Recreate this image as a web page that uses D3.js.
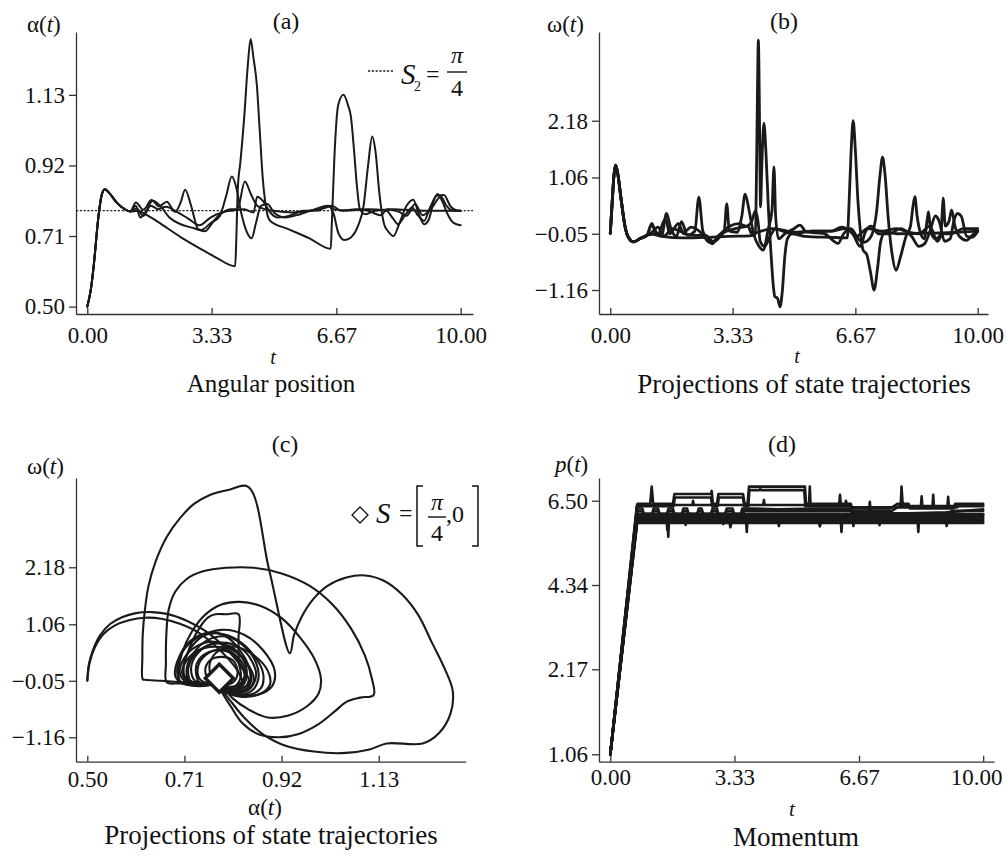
<!DOCTYPE html>
<html><head><meta charset="utf-8">
<script src="https://cdn.jsdelivr.net/npm/d3@7"></script>
<style>
body{margin:0;background:#fff;}
svg{display:block;font-family:"Liberation Serif","Times New Roman",serif;}
</style></head><body>
<svg id="fig" width="1006" height="855"></svg>
<script>
// ---- tick values ----
const timeTicks = [0, 3.33, 6.67, 10];
const angleTicks = [0.50, 0.71, 0.92, 1.13];
const rateTicks = [-1.16, -0.05, 1.06, 2.18];
const momentumTicks = [1.06, 2.17, 4.34, 6.50];
const setAngle = Math.PI / 4;

// ---- (a) angular position α(t), runs share the same start-up transient ----
const angleStart = [[0,0.5],[0.1,0.555],[0.17,0.62],[0.3,0.77],[0.38,0.83],[0.47,0.849],[0.6,0.836],[0.8,0.808],[1.0,0.79],[1.15,0.783]];
const angleRun1 = angleStart.concat([[1.35,0.785],[1.6,0.772],[2.0,0.744],[2.5,0.707],[3.0,0.674],[3.45,0.646],[3.96,0.62],[3.99,0.7],[4.03,0.85],[4.1,0.93],[4.2,1.06],[4.3,1.22],[4.375,1.296],[4.45,1.24],[4.54,1.16],[4.62,1.02],[4.7,0.88],[4.76,0.815],[4.82,0.775],[4.9,0.755],[5.4,0.73],[5.95,0.703],[6.52,0.672],[6.55,0.75],[6.62,0.95],[6.72,1.1],[6.86,1.13],[6.98,1.1],[7.06,1.065],[7.14,0.97],[7.22,0.86],[7.3,0.79],[7.45,0.775],[7.7,0.785],[8.2,0.79],[8.8,0.786],[9.4,0.785],[10,0.785]]);
const angleRun2 = angleStart.concat([[1.3,0.80],[1.42,0.765],[1.58,0.785],[1.75,0.815],[1.95,0.80],[2.2,0.765],[2.5,0.745],[2.8,0.735],[3.05,0.728],[3.3,0.748],[3.55,0.77],[3.72,0.83],[3.87,0.887],[4.0,0.85],[4.12,0.78],[4.28,0.72],[4.4,0.703],[4.52,0.75],[4.65,0.80],[4.82,0.805],[5.0,0.78],[5.3,0.765],[5.7,0.775],[6.1,0.79],[6.45,0.80],[6.6,0.775],[6.72,0.72],[6.88,0.698],[7.05,0.705],[7.25,0.74],[7.4,0.8],[7.52,0.92],[7.63,1.006],[7.72,0.96],[7.82,0.84],[7.95,0.745],[8.05,0.725],[8.2,0.71],[8.35,0.745],[8.55,0.8],[8.73,0.818],[8.88,0.775],[9.02,0.745],[9.15,0.76],[9.28,0.815],[9.38,0.835],[9.5,0.815],[9.65,0.775],[9.8,0.75],[10,0.742]]);
const angleRun3 = angleStart.concat([[1.3,0.81],[1.5,0.788],[1.72,0.817],[1.92,0.798],[2.13,0.812],[2.35,0.782],[2.5,0.81],[2.62,0.848],[2.78,0.80],[2.97,0.73],[3.15,0.724],[3.4,0.757],[3.6,0.778],[3.85,0.79],[4.02,0.79],[4.22,0.872],[4.38,0.835],[4.55,0.80],[4.75,0.79],[5.0,0.785],[5.5,0.78],[6.0,0.786],[6.35,0.793],[6.55,0.80],[6.8,0.785],[7.2,0.79],[7.5,0.786],[7.85,0.772],[8.05,0.79],[8.35,0.782],[8.55,0.77],[8.78,0.805],[8.98,0.772],[9.2,0.79],[9.47,0.827],[9.62,0.80],[9.8,0.786],[10,0.785]]);
const angleRun4 = angleStart.concat([[1.32,0.792],[1.5,0.77],[1.7,0.8],[1.9,0.79],[2.1,0.797],[2.4,0.782],[2.7,0.762],[3.0,0.742],[3.3,0.765],[3.6,0.78],[3.9,0.786],[4.2,0.79],[4.45,0.78],[4.55,0.827],[4.7,0.815],[4.9,0.78],[5.1,0.765],[5.4,0.77],[5.8,0.785],[6.2,0.786],[6.42,0.80],[6.6,0.79],[7.0,0.786],[7.5,0.79],[8.0,0.786],[8.2,0.76],[8.32,0.745],[8.5,0.77],[8.7,0.795],[8.85,0.772],[9.02,0.755],[9.18,0.795],[9.36,0.83],[9.55,0.832],[9.72,0.80],[9.9,0.786],[10,0.785]]);
const angleRuns = [angleRun1, angleRun2, angleRun3, angleRun4];

// ---- (b) angular rate ω(t) ----
const rateStart = [[0,-0.04],[0.05,0.55],[0.1,1.1],[0.145,1.305],[0.2,1.15],[0.3,0.6],[0.4,0.1],[0.5,-0.13],[0.63,-0.21],[0.8,-0.15],[1.0,-0.08]];
const rateRun1 = rateStart.concat([[1.15,-0.06],[1.4,-0.1],[2.0,-0.13],[2.6,-0.12],[3.2,-0.1],[3.8,-0.09],[3.95,-0.06],[3.98,1.2],[4.01,3.0],[4.03,3.77],[4.05,3.0],[4.07,1.5],[4.09,0.48],[4.12,1.2],[4.18,2.13],[4.24,1.5],[4.3,0.5],[4.38,-0.5],[4.44,-1.1],[4.48,-1.29],[4.55,-1.32],[4.62,-1.49],[4.68,-1.2],[4.75,-0.5],[4.82,-0.15],[4.95,-0.05],[5.3,-0.1],[6.0,-0.12],[6.45,-0.13],[6.49,0.4],[6.55,1.5],[6.61,2.18],[6.67,1.6],[6.74,0.6],[6.8,0.05],[6.88,-0.37],[6.98,-0.46],[7.08,-0.8],[7.18,-1.16],[7.27,-0.75],[7.36,-0.2],[7.48,-0.02],[7.8,-0.05],[8.5,-0.04],[9.2,-0.03],[10,0.0]]);
const rateRun2 = rateStart.concat([[1.13,0.155],[1.25,-0.05],[1.4,-0.08],[1.53,0.35],[1.65,0.05],[1.8,-0.1],[1.94,0.19],[2.1,-0.08],[2.3,0.0],[2.41,0.67],[2.52,0.0],[2.65,-0.15],[2.78,-0.25],[2.92,-0.1],[3.1,0.0],[3.17,0.54],[3.24,0.0],[3.45,-0.02],[3.58,0.3],[3.67,0.73],[3.78,0.4],[3.9,-0.05],[4.05,-0.3],[4.16,-0.37],[4.3,0.05],[4.4,0.4],[4.455,1.27],[4.5,0.3],[4.58,-0.15],[4.75,-0.05],[5.0,0.05],[5.16,0.12],[5.35,-0.02],[5.8,-0.04],[6.2,-0.24],[6.35,-0.05],[6.55,0.05],[6.75,-0.15],[6.9,-0.22],[7.1,-0.1],[7.25,0.4],[7.34,1.1],[7.41,1.46],[7.48,1.1],[7.56,0.3],[7.66,-0.4],[7.78,-0.77],[7.9,-0.5],[8.05,-0.1],[8.17,0.1],[8.24,0.5],[8.29,0.68],[8.35,0.3],[8.45,-0.05],[8.55,-0.15],[8.62,0.2],[8.66,0.385],[8.72,0.0],[8.85,-0.15],[9.0,-0.05],[9.04,0.45],[9.06,0.65],[9.12,0.1],[9.22,0.2],[9.29,0.42],[9.38,0.1],[9.5,-0.1],[9.7,-0.18],[9.85,-0.08],[10,0.0]]);
const rateRun3 = rateStart.concat([[1.12,0.12],[1.3,-0.05],[1.5,0.25],[1.62,-0.05],[1.85,0.15],[2.0,-0.05],[2.3,-0.08],[2.6,-0.08],[2.8,-0.2],[3.0,-0.05],[3.25,0.1],[3.5,0.15],[3.7,0.1],[3.85,0.2],[3.95,0.4],[4.02,0.2],[4.08,-0.2],[4.2,-0.3],[4.35,-0.1],[4.5,0.05],[4.7,0.0],[5.0,-0.05],[5.5,0.0],[6.0,0.0],[6.4,0.05],[6.6,-0.05],[6.8,-0.3],[6.95,0.0],[7.1,0.1],[7.3,-0.05],[7.6,-0.05],[7.9,0.05],[8.2,-0.1],[8.4,-0.3],[8.55,-0.25],[8.7,0.0],[8.85,0.3],[8.95,0.2],[9.1,-0.2],[9.25,-0.15],[9.35,0.2],[9.45,0.35],[9.55,0.3],[9.7,-0.1],[9.85,-0.12],[10,0.0]]);
const rateRun4 = rateStart.concat([[1.1,-0.04],[1.3,0.08],[1.45,-0.1],[1.7,0.05],[2.0,-0.02],[2.2,0.08],[2.5,-0.05],[2.7,-0.22],[2.85,-0.2],[3.1,-0.02],[3.4,0.05],[3.6,0.08],[3.75,0.1],[3.85,-0.05],[4.1,0.0],[4.4,0.05],[4.7,0.02],[5.0,-0.02],[5.5,0.0],[6.0,0.0],[6.3,0.08],[6.5,0.02],[6.7,-0.1],[7.0,0.05],[7.4,0.0],[7.8,0.05],[8.1,-0.02],[8.4,-0.05],[8.7,0.1],[8.9,-0.2],[9.05,-0.05],[9.3,-0.05],[9.6,0.05],[10,0.05]]);
const rateRuns = [rateRun1, rateRun2, rateRun3, rateRun4];

// ---- (c) phase portrait (α, ω) ----
const phaseArcOuter = [[0.5,-0.047],[0.503,0.25],[0.512,0.55],[0.528,0.85],[0.55,1.07],[0.575,1.2],[0.605,1.28],[0.64,1.30],[0.675,1.26],[0.715,1.13],[0.755,0.93],[0.79,0.67],[0.82,0.38],[0.84,0.12],[0.849,-0.02],[0.84,-0.18],[0.815,-0.24],[0.79,-0.14],[0.785,-0.05]];
const phaseArcInner = [[0.5,-0.047],[0.505,0.3],[0.516,0.6],[0.535,0.87],[0.56,1.04],[0.59,1.14],[0.625,1.19],[0.66,1.17],[0.7,1.07],[0.74,0.9],[0.775,0.65],[0.805,0.38],[0.828,0.1],[0.835,-0.1],[0.82,-0.22],[0.795,-0.17],[0.785,-0.06]];
const phaseFan = [[0.785,-0.08],[0.75,-0.09],[0.70,-0.075],[0.66,-0.05],[0.625,-0.03],[0.62,-0.02],[0.619,0.4],[0.62,0.88],[0.624,1.3],[0.632,1.8],[0.648,2.3],[0.672,2.78],[0.70,3.14],[0.73,3.42],[0.765,3.6],[0.805,3.7],[0.848,3.76],[0.893,2.13],[0.938,0.49],[0.947,0.85],[0.963,1.2],[0.988,1.55],[1.02,1.82],[1.06,1.98],[1.1,2.02],[1.14,1.92],[1.18,1.65],[1.215,1.25],[1.245,0.7],[1.272,0.2],[1.29,-0.25],[1.285,-0.7],[1.26,-1.08],[1.225,-1.28],[1.147,-1.28],[1.11,-1.4],[1.05,-1.47],[0.99,-1.44],[0.93,-1.33],[0.88,-1.1],[0.84,-0.78],[0.81,-0.45],[0.79,-0.2],[0.785,-0.08]];
const phaseSecond = [[0.785,-0.1],[0.74,-0.12],[0.70,-0.1],[0.672,-0.08],[0.670,0.3],[0.671,0.88],[0.676,1.35],[0.69,1.7],[0.715,1.95],[0.75,2.1],[0.80,2.17],[0.86,2.17],[0.92,2.06],[0.98,1.82],[1.03,1.45],[1.07,0.98],[1.1,0.45],[1.115,0.0],[1.119,-0.33],[1.09,-0.38],[1.061,-0.46],[1.035,-0.65],[1.0,-0.9],[0.955,-1.1],[0.915,-1.16],[0.87,-1.1],[0.835,-0.88],[0.81,-0.55],[0.79,-0.25],[0.785,-0.1]];
const phaseThird = [[0.785,-0.05],[0.76,-0.14],[0.725,-0.14],[0.70,-0.05],[0.698,0.2],[0.705,0.5],[0.725,0.9],[0.755,1.25],[0.79,1.45],[0.83,1.5],[0.875,1.42],[0.92,1.18],[0.96,0.8],[0.99,0.4],[1.005,0.0],[1.0,-0.3],[0.975,-0.55],[0.935,-0.73],[0.89,-0.77],[0.85,-0.62],[0.815,-0.4],[0.795,-0.18],[0.785,-0.05]];
const phaseBox = [[0.795,-0.12],[0.75,-0.1],[0.712,-0.02],[0.708,0.2],[0.722,0.62],[0.744,1.01],[0.762,1.2],[0.777,1.257],[0.8,1.257],[0.827,1.257],[0.827,0.8],[0.828,0.29],[0.832,0.05],[0.82,-0.15],[0.795,-0.15]];
const phaseLoop1 = [[0.785,-0.05],[0.75,-0.12],[0.715,-0.08],[0.70,0.1],[0.71,0.4],[0.735,0.62],[0.77,0.72],[0.81,0.6],[0.84,0.35],[0.855,0.05],[0.845,-0.2],[0.81,-0.28],[0.785,-0.18]];
const phaseLoop2 = [[0.785,-0.1],[0.745,-0.13],[0.72,-0.05],[0.715,0.2],[0.73,0.5],[0.76,0.75],[0.80,0.82],[0.84,0.62],[0.865,0.3],[0.87,0.0],[0.855,-0.25],[0.82,-0.33],[0.79,-0.2]];
const phaseLoop3 = [[0.78,-0.06],[0.75,-0.1],[0.73,-0.02],[0.725,0.25],[0.745,0.55],[0.775,0.68],[0.81,0.62],[0.835,0.4],[0.845,0.1],[0.835,-0.15],[0.805,-0.22],[0.785,-0.12]];
const phaseLoop4 = [[0.785,-0.05],[0.74,-0.1],[0.71,0.05],[0.715,0.45],[0.745,0.8],[0.79,0.95],[0.84,0.85],[0.88,0.55],[0.905,0.15],[0.9,-0.15],[0.87,-0.32],[0.82,-0.3],[0.79,-0.15]];
const phaseLoop5 = [[0.785,-0.08],[0.76,-0.1],[0.742,0.0],[0.74,0.25],[0.755,0.45],[0.78,0.55],[0.81,0.5],[0.83,0.3],[0.84,0.05],[0.825,-0.15],[0.8,-0.18],[0.785,-0.1]];
const phaseLoop6 = [[0.79,-0.1],[0.77,0.0],[0.765,0.3],[0.785,0.55],[0.82,0.62],[0.86,0.45],[0.89,0.15],[0.895,-0.12],[0.875,-0.3],[0.83,-0.36],[0.795,-0.25],[0.785,-0.1]];
const phaseLoop7 = [[0.785,-0.05],[0.765,-0.05],[0.755,0.15],[0.765,0.35],[0.79,0.42],[0.815,0.35],[0.825,0.12],[0.815,-0.08],[0.795,-0.12],[0.785,-0.05]];
const phaseLoop8 = [[0.78,-0.1],[0.73,-0.14],[0.705,-0.1],[0.69,0.05],[0.70,0.45],[0.725,0.75],[0.765,0.9],[0.80,0.82],[0.83,0.55],[0.85,0.2],[0.85,-0.1],[0.82,-0.22],[0.79,-0.15]];
const phaseLoop9 = [[0.785,-0.12],[0.74,-0.14],[0.72,-0.1],[0.705,0.1],[0.715,0.35],[0.74,0.55],[0.775,0.62],[0.815,0.55],[0.845,0.3],[0.86,0.0],[0.85,-0.22],[0.815,-0.3],[0.79,-0.22]];
const phaseLoop10 = [[0.785,-0.06],[0.755,-0.12],[0.728,-0.1],[0.718,0.1],[0.728,0.42],[0.755,0.62],[0.79,0.7],[0.83,0.6],[0.855,0.35],[0.865,0.05],[0.85,-0.2],[0.81,-0.26],[0.788,-0.16]];
const phaseLoop11 = [[0.78,-0.08],[0.745,-0.1],[0.735,0.1],[0.74,0.35],[0.765,0.52],[0.8,0.56],[0.825,0.42],[0.84,0.2],[0.84,-0.05],[0.82,-0.2],[0.795,-0.2],[0.782,-0.1]];
const phaseLoop12 = [[0.785,-0.1],[0.72,-0.12],[0.7,-0.05],[0.695,0.25],[0.712,0.6],[0.745,0.82],[0.785,0.88],[0.825,0.75],[0.86,0.45],[0.88,0.1],[0.875,-0.2],[0.84,-0.34],[0.8,-0.28]];
const phasePaths = [phaseArcOuter, phaseArcInner, phaseFan, phaseSecond, phaseThird, phaseBox,
  phaseLoop1, phaseLoop2, phaseLoop3, phaseLoop4, phaseLoop5, phaseLoop6,
  phaseLoop7, phaseLoop8, phaseLoop9, phaseLoop10, phaseLoop11, phaseLoop12];

// ---- (d) momentum p(t), piecewise-constant runs with switching spikes ----
const momentumRun1 = [[0,1.06],[0.71,6.35],[0.73,6.42],[1.07,6.42],[1.11,6.86],[1.15,6.42],[1.68,6.42],[1.72,6.67],[2.70,6.67],[2.72,6.75],[2.75,6.42],[2.86,6.42],[2.9,6.67],[3.56,6.67],[3.6,6.42],[3.68,6.42],[3.72,6.86],[5.22,6.86],[5.25,6.42],[5.33,6.42],[5.35,6.86],[5.37,6.42],[6.14,6.42],[6.16,6.65],[6.18,6.42],[6.45,6.42],[6.48,6.30],[7.5,6.30],[7.7,6.42],[7.79,6.42],[7.81,6.86],[7.84,6.42],[8.0,6.42],[8.03,6.30],[9.2,6.30],[9.25,6.42],[10,6.42]];
const momentumRun2 = [[0,1.06],[0.72,6.36],[1.70,6.36],[1.73,6.58],[2.70,6.58],[2.73,6.36],[2.88,6.36],[2.91,6.58],[3.56,6.58],[3.59,6.36],[3.70,6.36],[3.73,6.77],[4.0,6.77],[4.02,6.80],[4.04,6.77],[5.20,6.77],[5.23,6.36],[6.45,6.36],[6.48,6.24],[6.94,6.24],[6.96,6.47],[6.98,6.24],[7.55,6.24],[7.75,6.36],[8.33,6.36],[8.35,6.61],[8.37,6.36],[8.64,6.36],[8.66,6.65],[8.68,6.36],[9.04,6.36],[9.06,6.60],[9.08,6.36],[10,6.36]];
const momentumRun3 = [[0,1.06],[0.72,6.30],[0.86,6.30],[0.9,6.16],[1.12,6.16],[1.16,6.30],[1.28,6.30],[1.32,6.16],[1.52,6.16],[1.56,6.30],[1.68,6.30],[1.72,6.16],[1.92,6.16],[1.96,6.30],[2.06,6.30],[2.1,6.16],[2.33,6.16],[2.37,6.30],[2.45,6.30],[2.49,6.16],[2.7,6.16],[2.74,6.30],[2.86,6.30],[2.9,6.16],[3.08,6.16],[3.12,6.30],[3.28,6.30],[3.32,6.16],[3.5,6.16],[3.54,6.30],[3.8,6.30],[4.5,6.28],[5.5,6.30],[6.45,6.30],[6.5,6.18],[8.0,6.18],[9.0,6.2],[10,6.28]];
const momentumRun4 = [[0,1.06],[0.72,6.23],[0.86,6.23],[0.9,6.16],[1.12,6.16],[1.16,6.23],[1.28,6.23],[1.32,6.16],[1.52,6.16],[1.56,6.23],[1.68,6.23],[1.72,6.16],[1.92,6.16],[1.96,6.23],[2.06,6.23],[2.1,6.16],[2.33,6.16],[2.37,6.23],[2.45,6.23],[2.49,6.16],[2.7,6.16],[2.74,6.23],[2.86,6.23],[2.9,6.16],[3.08,6.16],[3.12,6.23],[3.28,6.23],[3.32,6.16],[3.5,6.16],[3.54,6.23],[6.45,6.23],[6.5,6.12],[9.1,6.12],[9.15,6.24],[10,6.24]];
const momentumRun5 = [[0,1.06],[0.73,6.16],[1.53,6.16],[1.555,5.58],[1.58,6.16],[3.63,6.16],[3.66,5.70],[3.69,6.16],[6.17,6.16],[6.2,5.70],[6.23,6.16],[8.23,6.16],[8.26,5.70],[8.29,6.16],[10,6.16]];
const momentumRun6 = [[0,1.06],[0.73,6.08],[1.5,6.08],[1.53,5.75],[1.56,6.08],[3.0,6.08],[3.03,5.9],[3.06,6.08],[6.5,6.08],[6.52,5.85],[6.55,6.08],[10,6.08]];
const momentumRun7 = [[0,1.06],[0.72,6.0],[2.0,6.0],[2.02,5.88],[2.05,6.0],[4.5,5.98],[4.52,5.85],[4.55,5.98],[7.2,6.0],[7.22,5.87],[7.25,6.0],[9.0,6.0],[9.02,5.85],[9.05,6.0],[10,6.0]];
const momentumRun8 = [[0,1.06],[0.72,5.93],[3.2,5.93],[3.22,5.82],[3.25,5.93],[5.6,5.93],[5.62,5.84],[5.65,5.93],[10,5.93]];
const momentumRun9 = [[0,1.06],[0.72,6.39],[2.2,6.39],[2.22,6.5],[2.24,6.39],[4.1,6.39],[4.12,6.52],[4.14,6.39],[6.3,6.39],[6.32,6.5],[6.34,6.39],[6.45,6.39],[6.48,6.33],[9.3,6.33],[9.35,6.39],[10,6.39]];
const momentumRun10 = [[0,1.06],[0.72,6.12],[2.5,6.12],[2.52,6.02],[2.54,6.12],[5.0,6.12],[5.02,6.0],[5.04,6.12],[8.6,6.12],[8.62,6.0],[8.64,6.12],[10,6.12]];
const momentumRun11 = [[0,1.06],[0.72,6.04],[1.9,6.04],[1.92,5.95],[1.94,6.04],[4.9,6.04],[4.92,5.94],[4.94,6.04],[7.8,6.04],[7.82,5.94],[7.84,6.04],[10,6.04]];
const momentumRun12 = [[0,1.06],[0.72,5.96],[10,5.96]];
const momentumRun13 = [[0,1.06],[0.72,6.16],[3.56,6.16],[3.6,6.27],[6.45,6.27],[6.5,6.15],[10,6.15]];
const momentumRuns = [momentumRun1, momentumRun2, momentumRun3, momentumRun4, momentumRun5, momentumRun6,
  momentumRun7, momentumRun8, momentumRun9, momentumRun10, momentumRun11, momentumRun12, momentumRun13];

// ---- drawing ----
const svg = d3.select('#fig');
svg.append('rect').attr('width', 1006).attr('height', 855).attr('fill', '#fff');
const ink = '#1a1a1a';
const fmt2 = d3.format('.2f');

// scales per panel
const xa = d3.scaleLinear().domain([-0.303, 10.33]).range([76, 473]);
const ya = d3.scaleLinear().domain([0.478, 1.317]).range([314, 32]);
const xb = d3.scaleLinear().domain([-0.307, 10.28]).range([599, 988]);
const yb = d3.scaleLinear().domain([-1.633, 3.93]).range([314, 32]);
const xc = d3.scaleLinear().domain([0.4756, 1.318]).range([76, 465.7]);
const yc = d3.scaleLinear().domain([-1.639, 3.934]).range([761.7, 478]);
const xd = d3.scaleLinear().domain([-0.303, 10.29]).range([599, 994]);
const yd = d3.scaleLinear().domain([0.963, 1.06, 2.17, 4.34, 6.50, 7.08]).range([761.7, 754.3, 669.3, 585, 500.7, 478]);

function axes(x, y, xTicks, yTicks, xPad) {
  const gx = svg.append('g').attr('transform', `translate(0,${y.range()[0]})`)
    .call(d3.axisBottom(x).tickValues(xTicks).tickFormat(fmt2).tickSizeInner(-6).tickSizeOuter(0).tickPadding(xPad));
  const gy = svg.append('g').attr('transform', `translate(${x.range()[0]},0)`)
    .call(d3.axisLeft(y).tickValues(yTicks).tickFormat(fmt2).tickSizeInner(7).tickSizeOuter(0).tickPadding(4));
  [gx, gy].forEach(g => {
    g.attr('font-family', '"Liberation Serif","Times New Roman",serif').attr('font-size', 23);
    g.selectAll('path,line').attr('stroke', '#333').attr('stroke-width', 1.3);
    g.selectAll('text').attr('fill', '#111');
  });
  return gx;
}

function label(x, y, parts, size, anchor) {
  const t = svg.append('text').attr('x', x).attr('y', y).attr('font-size', size)
    .attr('text-anchor', anchor || 'start').attr('fill', '#111');
  parts.forEach(p => {
    const s = t.append('tspan').text(p[0]);
    if (p[1]) s.attr('font-style', 'italic');
  });
  return t;
}

function traces(data, line, width) {
  svg.append('g').selectAll('path').data(data).join('path')
    .attr('d', line).attr('fill', 'none').attr('stroke', ink)
    .attr('stroke-width', width).attr('stroke-linejoin', 'round').attr('stroke-linecap', 'round');
}

// (a)
axes(xa, ya, timeTicks, angleTicks, 13);
svg.append('line').attr('x1', 76).attr('x2', 473).attr('y1', ya(setAngle)).attr('y2', ya(setAngle))
  .attr('stroke', '#222').attr('stroke-width', 1.3).attr('stroke-dasharray', '2.2,1.6');
traces(angleRuns, d3.line().x(d => xa(d[0])).y(d => ya(d[1])).curve(d3.curveMonotoneX), 2);
label(286, 29, [['(a)']], 24, 'middle');
label(27, 32, [['α('], ['t', true], [')']], 23);
label(273, 364, [['t', true]], 20, 'middle');
label(271, 392, [['Angular position']], 25, 'middle');
// legend of (a)
svg.append('line').attr('x1', 368).attr('x2', 393).attr('y1', 71).attr('y2', 71)
  .attr('stroke', '#222').attr('stroke-width', 1.3).attr('stroke-dasharray', '2.2,1.6');
label(401, 84, [['S', true]], 29);
label(414, 91, [['2']], 14);
label(426, 82, [['=']], 24);
label(457, 63, [['π', true]], 24, 'middle');
svg.append('line').attr('x1', 447).attr('x2', 467).attr('y1', 72).attr('y2', 72).attr('stroke', '#111').attr('stroke-width', 1.4);
label(457, 96, [['4']], 24, 'middle');

// (b)
axes(xb, yb, timeTicks, rateTicks, 13);
traces(rateRuns, d3.line().x(d => xb(d[0])).y(d => yb(d[1])).curve(d3.curveMonotoneX), 2.8);
label(784, 29, [['(b)']], 24, 'middle');
label(547, 32, [['ω('], ['t', true], [')']], 23);
label(797, 363, [['t', true]], 20, 'middle');
label(804, 393, [['Projections of state trajectories']], 27, 'middle');

// (c)
axes(xc, yc, angleTicks, rateTicks, 9);
traces(phasePaths, d3.line().x(d => xc(d[0])).y(d => yc(d[1])).curve(d3.curveCatmullRom.alpha(0.5)), 2.1);
svg.append('path').attr('transform', `translate(${xc(setAngle)},${yc(0)})`)
  .attr('d', 'M0,-14L14,0L0,14L-14,0Z').attr('fill', '#fff').attr('stroke', ink).attr('stroke-width', 3.4);
label(285, 452, [['(c)']], 24, 'middle');
label(27, 474, [['ω('], ['t', true], [')']], 23);
label(265, 815, [['α('], ['t', true], [')']], 23, 'middle');
label(271, 844, [['Projections of state trajectories']], 27, 'middle');
// legend of (c)
svg.append('path').attr('transform', 'translate(360,515)').attr('d', 'M0,-8L8,0L0,8L-8,0Z')
  .attr('fill', 'none').attr('stroke', '#111').attr('stroke-width', 1.3);
label(376, 523, [['S', true]], 29);
label(399, 521, [['=']], 24);
svg.append('path').attr('d', 'M423,486H417V546H423').attr('fill', 'none').attr('stroke', '#111').attr('stroke-width', 1.5);
label(437, 510, [['π', true]], 24, 'middle');
svg.append('line').attr('x1', 428).attr('x2', 446).attr('y1', 517).attr('y2', 517).attr('stroke', '#111').attr('stroke-width', 1.4);
label(437, 541, [['4']], 24, 'middle');
label(446, 522, [[',0']], 24);
svg.append('path').attr('d', 'M472,486H478V546H472').attr('fill', 'none').attr('stroke', '#111').attr('stroke-width', 1.5);

// (d)
const gxd = axes(xd, yd, timeTicks, momentumTicks, 7);
// keep the last time label inside the canvas
gxd.selectAll('.tick').filter(d => d === 10).select('text').attr('dx', -7);
traces(momentumRuns, d3.line().x(d => xd(d[0])).y(d => yd(d[1])), 2.6);
label(782, 452, [['(d)']], 24, 'middle');
label(555, 472, [['p', true], ['('], ['t', true], [')']], 23);
label(792, 816, [['t', true]], 21, 'middle');
label(796, 846, [['Momentum']], 27, 'middle');
</script>
</body></html>
